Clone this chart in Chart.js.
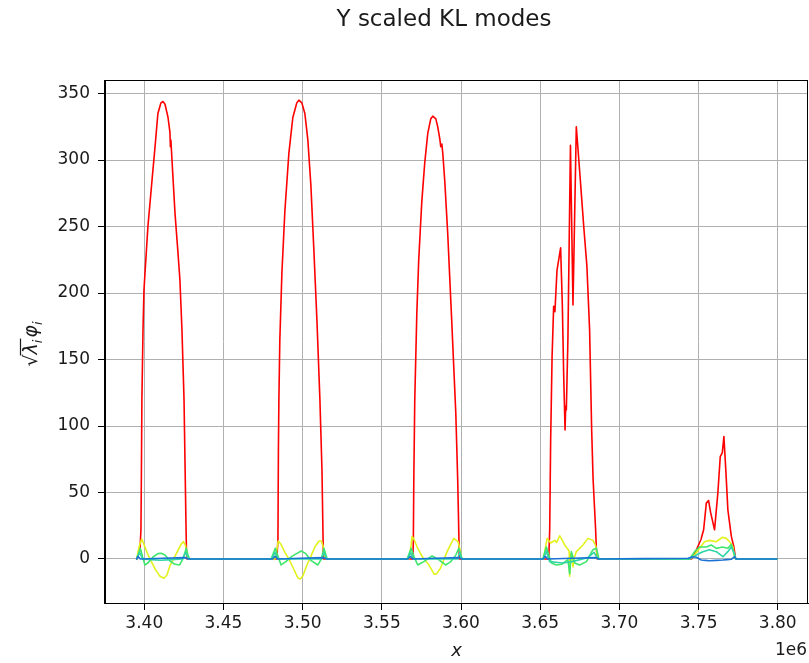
<!DOCTYPE html>
<html><head><meta charset="utf-8">
<script src="https://cdn.jsdelivr.net/npm/chart.js@4.4.0/dist/chart.umd.min.js"></script>
<style>html,body{margin:0;padding:0;background:#fff;}canvas{display:block;}</style>
</head><body>
<canvas id="c" width="809" height="663"></canvas>
<script>
// ---- text ----
const chartTitle = 'Y scaled KL modes';
const xLabel = 'x';
const xOffsetText = '1e6';

// ---- axes (x in units of 1e6) ----
const xTicks = [3.40, 3.45, 3.50, 3.55, 3.60, 3.65, 3.70, 3.75, 3.80];
const yTicks = [0, 50, 100, 150, 200, 250, 300, 350];
const xRange = [3.3752, 3.8191];
const yRange = [-33.1, 360.2];

// ---- series (x in 1e6 units, y values) ----
const redX = [3.3952, 3.3954, 3.3973, 3.3979, 3.3982, 3.3985, 3.3992, 3.3998, 3.4004, 3.4023, 3.4049, 3.4068, 3.4086, 3.4105, 3.4118, 3.4131, 3.4150, 3.4162, 3.4165, 3.4168, 3.4175, 3.4194, 3.4213, 3.4225, 3.4238, 3.4251, 3.4257, 3.4263, 3.4266, 3.4269,
  3.4837, 3.4844, 3.4847, 3.4850, 3.4856, 3.4869, 3.4888, 3.4913, 3.4938, 3.4963, 3.4976, 3.4995, 3.5014, 3.5033, 3.5052, 3.5071, 3.5090, 3.5109, 3.5122, 3.5128, 3.5131,
  3.5696, 3.5699, 3.5702, 3.5708, 3.5721, 3.5733, 3.5752, 3.5771, 3.5790, 3.5809, 3.5822, 3.5841, 3.5853, 3.5866, 3.5872, 3.5879, 3.5885, 3.5897, 3.5916, 3.5941, 3.5967, 3.5979, 3.5986, 3.5989,
  3.6554, 3.6560, 3.6566, 3.6575, 3.6585, 3.6593, 3.6606, 3.6629, 3.6640, 3.6648, 3.6657, 3.6661, 3.6665, 3.6675, 3.6691, 3.6707, 3.6728, 3.6749, 3.6775, 3.6795, 3.6812, 3.6825, 3.6834, 3.6850, 3.6857,
  3.7456, 3.7462, 3.7487, 3.7516, 3.7532, 3.7549, 3.7563, 3.7576, 3.7601, 3.7622, 3.7637, 3.7650, 3.7660, 3.7672, 3.7685, 3.7707, 3.7723, 3.7734,
  3.7994];
const redY = [0, 0, 7, 22, 67, 120, 172, 202, 214, 250, 285, 310, 335, 343, 344, 342, 332, 321, 310, 315, 300, 260, 230, 210, 172, 120, 74, 29, 8, 0,
  0, 14, 82, 120, 165, 215, 262, 305, 332, 343, 345, 343, 335, 315, 281, 232, 180, 120, 67, 22, 0,
  0, 14, 60, 120, 185, 225, 268, 298, 320, 331, 333, 331, 325, 316, 310, 312, 305, 285, 245, 180, 110, 60, 20, 0,
  0, 22, 89, 152, 190, 186, 217, 234, 190, 140, 97, 115, 112, 165, 311, 191, 325, 292, 250, 220, 172, 97, 60, 22, 0,
  0, 1.5, 7, 15, 22, 42, 44, 35, 22, 50, 77, 80, 92, 67, 37, 17, 9, 0,
  0];

const yellowX = [3.3952, 3.3954, 3.3970, 3.3984, 3.3998, 3.4017, 3.4036, 3.4068, 3.4099, 3.4124, 3.4143, 3.4162, 3.4181, 3.4206, 3.4232, 3.4246, 3.4260, 3.4269, 3.4276,
  3.4825, 3.4834, 3.4846, 3.4863, 3.4888, 3.4913, 3.4945, 3.4970, 3.4986, 3.5001, 3.5027, 3.5052, 3.5077, 3.5103, 3.5118, 3.5131, 3.5140, 3.5147,
  3.5670, 3.5680, 3.5691, 3.5702, 3.5723, 3.5754, 3.5797, 3.5831, 3.5847, 3.5870, 3.5912, 3.5954, 3.5981, 3.5992, 3.6000, 3.6005,
  3.6522, 3.6532, 3.6544, 3.6566, 3.6592, 3.6604, 3.6623, 3.6644, 3.6655, 3.6670, 3.6683, 3.6686, 3.6693, 3.6702, 3.6707, 3.6715, 3.6728, 3.6770, 3.6802, 3.6833, 3.6850, 3.6863, 3.6869,
  3.7443, 3.7475, 3.7506, 3.7538, 3.7569, 3.7612, 3.7650, 3.7675, 3.7696, 3.7717, 3.7727, 3.7734, 3.7994];
const yellowY = [0, 1.5, 10.5, 15, 11, 5, 0, -7.5, -13, -14.5, -12, -5, -1, 5, 11, 13, 10.5, 3, 0,
  0, 4.5, 13.5, 11, 5, 0, -8, -14.3, -15, -12.8, -4.5, 2, 9, 13.5, 13.5, 9, 0.8, 0,
  0, 6, 17, 15, 9, 2, -4.5, -11.5, -11, -7, 5.5, 15.5, 13, 8, 2, 0,
  0, 8, 15.5, 12, 14, 12.5, 17.5, 13, 10.5, 8, 6, -13, 4, 0, -6, 1, 5.5, 10.5, 15.5, 14, 10, 1, 0,
  0, 3, 8, 13, 14, 13, 16.3, 15.5, 13, 9, 1.7, 0, 0];

const greenX = [3.3952, 3.3975, 3.3989, 3.4003, 3.4023, 3.4055, 3.4086, 3.4107, 3.4131, 3.4162, 3.4194, 3.4223, 3.4244, 3.4265, 3.4276, 3.4287,
  3.4801, 3.4827, 3.4844, 3.4864, 3.4894, 3.4932, 3.4991, 3.5020, 3.5052, 3.5096, 3.5118, 3.5134, 3.5147, 3.5155,
  3.5660, 3.5685, 3.5702, 3.5727, 3.5765, 3.5817, 3.5853, 3.5902, 3.5935, 3.5967, 3.5986, 3.5999, 3.6007,
  3.6516, 3.6539, 3.6554, 3.6571, 3.6602, 3.6636, 3.6675, 3.6686, 3.6697, 3.6718, 3.6749, 3.6792, 3.6833, 3.6855, 3.6871,
  3.7443, 3.7475, 3.7506, 3.7549, 3.7580, 3.7612, 3.7650, 3.7685, 3.7707, 3.7718, 3.7734, 3.7994];
const greenY = [0, 8, 2, -4.5, -3, 1.5, 4, 4.3, 3, -1.5, -4, -4.5, 0, 8, 3, 0,
  0, 8, 2, -4.5, -2, 2, 6, 4, -1, -4.5, 0, 8, 3, 0,
  0, 8, 2, -4.5, -2, 2.3, 0, -4.5, -2, 3, 8, 3, 0,
  0, 9, 3, -3, -4.5, -4, -0.5, -11, 5.5, -3, -4.5, -2, 7, 8, 0,
  0, 5.5, 9, 9, 10.5, 8, 9, 8, 11, 6, 0, 0];

const tealX = [3.3952, 3.3970, 3.3990, 3.4100, 3.4240, 3.4262, 3.4280,
  3.4805, 3.4825, 3.4845, 3.5120, 3.5135, 3.5152,
  3.5662, 3.5682, 3.5700, 3.5980, 3.5990, 3.6005,
  3.6520, 3.6538, 3.6560, 3.6640, 3.6700, 3.6800, 3.6840, 3.6865,
  3.7443, 3.7486, 3.7527, 3.7569, 3.7612, 3.7654, 3.7685, 3.7707, 3.7727, 3.7734, 3.7994];
const tealY = [0, 5, 0, -1, 0, 5, 0,
  0, 5, 0, 0, 5, 0,
  0, 5, 0, 0, 5, 0,
  0, 6, -2, -3, -2, 1, 5, 0,
  0, 3, 5.5, 7, 5.5, 1.7, 5.5, 9, 4, 0, 0];

const blueX = [3.3952, 3.3960, 3.3975, 3.4262, 3.4275,
  3.4810, 3.4825, 3.4840, 3.5135, 3.5150,
  3.5665, 3.5680, 3.5695, 3.5990, 3.6005,
  3.6518, 3.6532, 3.6548, 3.6855, 3.6868,
  3.7433, 3.7464, 3.7486, 3.7517, 3.7569, 3.7654, 3.7707, 3.7727, 3.7738, 3.7994];
const blueY = [0, 2, 0, 1, 0,
  0, 2, 0, 1, 0,
  0, 2, 0, 1, 0,
  0, 2, 0, 1, 0,
  0.5, 1.7, 1.3, -0.8, -1.3, -0.8, -0.2, 1.7, 0, 0];

const seriesColors = ['#ff0000', '#e2f21c', '#3ee66c', '#2fd4a8', '#1a72d6'];

function pts(xs, ys) { return xs.map((x, i) => ({ x: x, y: ys[i] })); }

const FONT = "'DejaVu Sans', sans-serif";
const TXT = '#1a1a1a';

const labelsPlugin = {
  id: 'labels',
  afterDraw(chart) {
    const ctx = chart.ctx;
    const a = chart.chartArea;
    ctx.save();
    // frame
    ctx.strokeStyle = '#000';
    ctx.lineWidth = 1;
    ctx.strokeRect(Math.round(a.left) - 0.5, Math.round(a.top) + 0.5, Math.round(a.right - a.left), Math.round(a.bottom - a.top));
    // title
    ctx.fillStyle = TXT;
    ctx.font = '23px ' + FONT;
    ctx.textAlign = 'center';
    ctx.textBaseline = 'middle';
    ctx.fillText(chartTitle, 444, 20);
    // x label
    ctx.font = 'italic 18px ' + FONT;
    ctx.fillText(xLabel, (a.left + a.right) / 2, 651);
    // offset text
    ctx.font = '17px ' + FONT;
    ctx.textAlign = 'right';
    ctx.fillText(xOffsetText, 807, 651);
    // y label: sqrt(lambda_i) phi_i, rotated
    ctx.translate(31, 344);
    ctx.rotate(-Math.PI / 2);
    const big = 'italic 19px ' + FONT, sub = 'italic 13px ' + FONT, rad = '19px ' + FONT;
    const parts = [
      { t: '\u221A', f: rad, dy: 0 },
      { t: '\u03BB', f: big, dy: 0, over: true },
      { t: 'i', f: sub, dy: 5, over: true },
      { t: ' ', f: '6px ' + FONT, dy: 0 },
      { t: '\u03C6', f: big, dy: 0 },
      { t: 'i', f: sub, dy: 5 }
    ];
    let total = 0;
    parts.forEach(p => { ctx.font = p.f; p.w = ctx.measureText(p.t).width; total += p.w; });
    let x = -total / 2;
    ctx.textAlign = 'left';
    ctx.textBaseline = 'alphabetic';
    let ovStart = null, ovEnd = null;
    parts.forEach(p => {
      ctx.font = p.f;
      ctx.fillText(p.t, x, 6 + p.dy);
      if (p.over) { if (ovStart === null) ovStart = x; ovEnd = x + p.w; }
      x += p.w;
    });
    ctx.beginPath();
    ctx.lineWidth = 1.2;
    ctx.strokeStyle = TXT;
    ctx.moveTo(ovStart - 1, -10.5);
    ctx.lineTo(ovEnd + 1, -10.5);
    ctx.stroke();
    ctx.restore();
  }
};

const mk = (xs, ys, c, order) => ({
  data: pts(xs, ys), borderColor: c, borderWidth: 1.6, pointRadius: 0,
  fill: false, tension: 0.000001, order: order, borderJoinStyle: 'round', borderCapStyle: 'round'
});

new Chart(document.getElementById('c'), {
  type: 'line',
  data: {
    datasets: [
      mk(redX, redY, seriesColors[0], 5),
      mk(yellowX, yellowY, seriesColors[1], 4),
      mk(greenX, greenY, seriesColors[2], 3),
      mk(tealX, tealY, seriesColors[3], 2),
      mk(blueX, blueY, seriesColors[4], 1)
    ]
  },
  options: {
    responsive: false,
    animation: false,
    devicePixelRatio: 1,
    layout: { padding: { top: 80, right: 1, left: 0, bottom: 0 } },
    plugins: { legend: { display: false }, tooltip: { enabled: false }, title: { display: false } },
    scales: {
      x: {
        type: 'linear', min: xRange[0], max: xRange[1],
        afterBuildTicks: s => { s.ticks = xTicks.map(v => ({ value: v })); },
        afterFit: s => { s.height = 60; },
        ticks: { color: TXT, font: { family: FONT, size: 17 }, padding: 3, maxRotation: 0, autoSkip: false,
          callback: v => Number(v).toFixed(2) },
        grid: { color: '#b0b0b0', lineWidth: 1, tickColor: '#000', tickLength: 7 },
        border: { color: '#000', width: 1 }
      },
      y: {
        type: 'linear', min: yRange[0], max: yRange[1],
        afterBuildTicks: s => { s.ticks = yTicks.map(v => ({ value: v })); },
        afterFit: s => { s.width = 105; },
        ticks: { color: TXT, font: { family: FONT, size: 17 }, padding: 8, autoSkip: false },
        grid: { color: '#b0b0b0', lineWidth: 1, tickColor: '#000', tickLength: 7 },
        border: { color: '#000', width: 1 }
      }
    }
  },
  plugins: [labelsPlugin]
});
</script>
</body></html>
